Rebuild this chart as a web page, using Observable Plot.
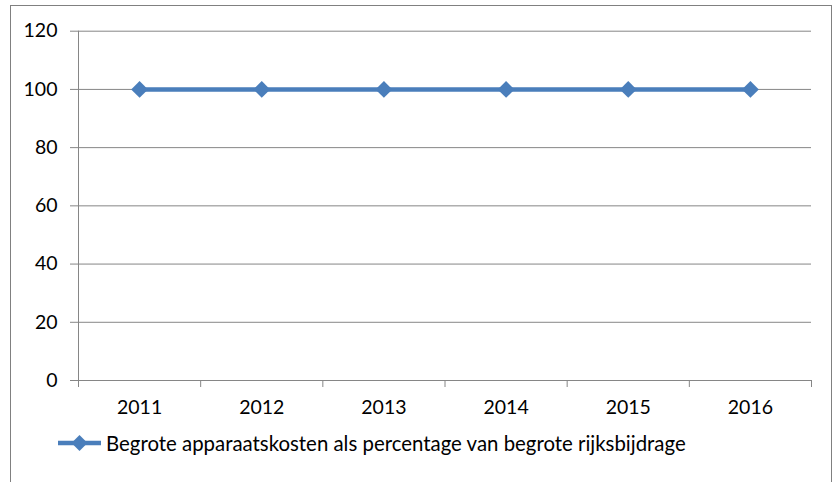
<!DOCTYPE html>
<html><head><meta charset="utf-8">
<script src="https://cdn.jsdelivr.net/npm/d3@7"></script>
<script src="https://cdn.jsdelivr.net/npm/@observablehq/plot@0.6"></script>
<style>
body{margin:0;background:#fff;font-family:Lato,"Liberation Sans",sans-serif;}
#wrap{position:relative;width:838px;height:482px;overflow:hidden;}
#frame{position:absolute;left:10px;top:5px;width:820px;height:520px;border:1.5px solid #808080;pointer-events:none;}
#legend{position:absolute;left:57px;top:431px;display:flex;align-items:center;font-size:20.4px;color:#000;}
</style></head>
<body><div id="wrap"><div id="chart"></div><div id="legend"></div><div id="frame"></div></div>
<script>
const years = ["2011","2012","2013","2014","2015","2016"];
const values = [100,100,100,100,100,100];
const seriesName = "Begrote apparaatskosten als percentage van begrote rijksbijdrage";
const yTicks = [0,20,40,60,80,100,120];

const color = "#4a7ebb";
const grid = "#868686";
const data = years.map((y,i)=>({i:i+0.5, year:y, v:values[i]}));
const bounds = d3.range(years.length+1);
const centers = data.map(d=>d.i);

const plot = Plot.plot({
  width: 838, height: 425,
  marginLeft: 78, marginRight: 27, marginTop: 30.7, marginBottom: 45,
  style: {fontFamily: "Lato, 'Liberation Sans', sans-serif", fontSize: "19.5px", color: "#000", background: "transparent"},
  x: {type: "linear", domain: [0, years.length]},
  y: {domain: [0,120]},
  marks: [
    Plot.ruleY(yTicks.filter(t=>t>0), {stroke: grid, strokeWidth: 1}),
    Plot.axisY({ticks: yTicks, tickSize: 8, tickPadding: 13, stroke: grid, label: null, fill: "#000"}),
    Plot.axisX({ticks: bounds, tickSize: 7, tickFormat: () => "", stroke: grid, label: null}),
    Plot.axisX({ticks: centers, tickSize: 0, tickPadding: 20, tickFormat: d => years[Math.round(d-0.5)], label: null, fill:"#000"}),
    Plot.ruleX([0], {stroke: grid}),
    Plot.ruleY([0], {stroke: grid}),
    Plot.line(data, {x: "i", y: "v", stroke: color, strokeWidth: 4.5}),
    Plot.dot(data, {x: "i", y: "v", symbol: "diamond2", r: 7.6, fill: color, stroke: "none"})
  ]
});
document.getElementById("chart").appendChild(plot);

const lg = document.getElementById("legend");
lg.innerHTML = `<svg width="45" height="20" style="margin-right:4px"><line x1="1" x2="44" y1="10" y2="10" stroke="${color}" stroke-width="4.5"/><path d="M22.5 2 L30.5 10 L22.5 18 L14.5 10 Z" fill="${color}"/></svg><span>${seriesName}</span>`;
</script></body></html>
